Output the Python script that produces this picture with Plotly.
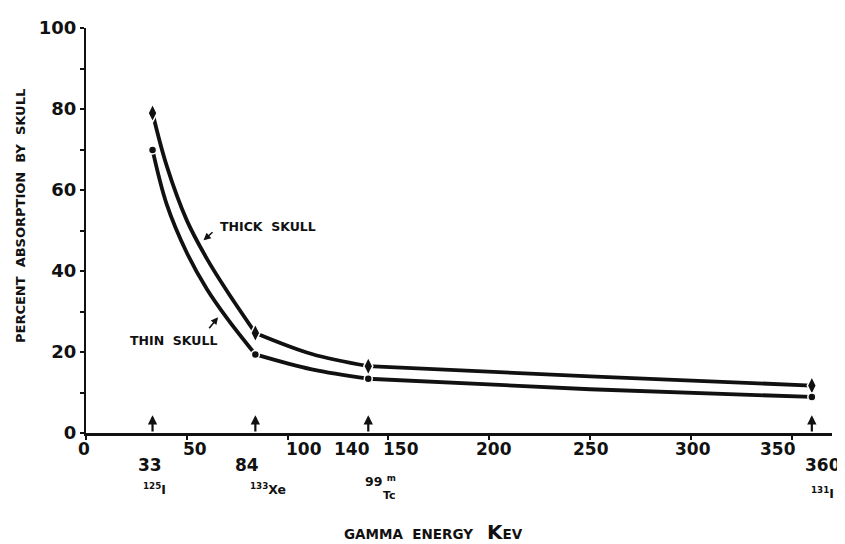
import plotly.graph_objects as go

# ---- data ----
energy_kev = [33, 84, 140, 360]                 # marked isotope energies
thick_skull = [79.0, 24.7, 16.5, 11.7]          # marker values, thick skull
thin_skull = [69.9, 19.4, 13.4, 8.9]            # marker values, thin skull
# points
curve_kev = [33, 40, 50, 60, 70, 84, 112, 140, 250, 360]
thick_curve = [79.0, 66.0, 52.5, 43.0, 35.0, 24.7, 19.5, 16.5, 14.0, 11.7]
thin_curve = [69.9, 56.5, 44.5, 35.5, 28.3, 19.4, 15.7, 13.4, 10.8, 8.9]
energy_labels = ["33", "84", "140", "360"]
isotope_labels = ["<sup>125</sup>I", "<sup>133</sup>Xe", "99 <sup>m</sup>", "<sup>131</sup>I"]
x_ticks = [0, 50, 100, 150, 200, 250, 300, 350]
y_ticks = [0, 20, 40, 60, 80, 100]

FONT = "DejaVu Sans"
BLACK = "#111111"

# page offset of the plotly div (body margin) -> design in page pixels
OFF = 8
W, H = 845 - OFF, 544 - OFF
PL, PR, PT, PB = 86, 832, 28, 433      # plot area in page pixels
L, T = PL - OFF, PT - OFF
R = W - (PR - OFF)
B = H - (PB - OFF)
pw, ph = PR - PL, PB - PT


def px_to_paper(px, py):
    return (px - PL) / pw, (PB - py) / ph


def segments(xs, ys, knots):
    """Split a curve into the pieces between consecutive marker energies."""
    sx, sy = [], []
    for a, b in zip(knots[:-1], knots[1:]):
        for x, y in zip(xs, ys):
            if a <= x <= b:
                sx.append(x)
                sy.append(y)
        sx.append(None)
        sy.append(None)
    return sx, sy


fig = go.Figure()
for cy, my, sym, msize in [(thick_curve, thick_skull, "diamond-tall", 13),
                           (thin_curve, thin_skull, "circle", 8)]:
    sx, sy = segments(curve_kev, cy, energy_kev)
    fig.add_trace(go.Scatter(
        x=sx, y=sy, mode="lines", connectgaps=False,
        line=dict(color=BLACK, width=3.8, shape="spline", smoothing=1.0),
        showlegend=False, cliponaxis=False, hoverinfo="skip"))
    fig.add_trace(go.Scatter(
        x=energy_kev, y=my, mode="markers",
        marker=dict(symbol=sym, size=msize, color=BLACK,
                    line=dict(color="white", width=1.5)),
        showlegend=False, cliponaxis=False))

ann = []
# up arrows marking the isotope energies
for e in energy_kev:
    ann.append(dict(x=e, y=4.4, ax=e, ay=0, xref="x", yref="y", axref="x", ayref="y",
                    text="", showarrow=True, arrowhead=2, arrowsize=0.85,
                    arrowwidth=2.2, arrowcolor=BLACK))

# x tick labels (typed slightly off their ticks in the original)
tick_dx = [-2, 8, 16, 13, 5, 1, 2, -14]
for t, dx in zip(x_ticks, tick_dx):
    ann.append(dict(x=t, y=0, xref="x", yref="y", text=str(t), showarrow=False,
                    xanchor="center", yanchor="middle", xshift=dx, yshift=-16,
                    font=dict(family=FONT, size=17, color=BLACK, weight="bold")))

# energy value labels
e_shift = [(-3, -32, "center"), (-8, -32, "center"), (4, -16, "right"), (11, -32, "center")]
for e, lab, (dx, dy, xa) in zip(energy_kev, energy_labels, e_shift):
    ann.append(dict(x=e, y=0, xref="x", yref="y", text=lab, showarrow=False,
                    xanchor=xa, yanchor="middle", xshift=dx, yshift=dy,
                    font=dict(family=FONT, size=17, color=BLACK, weight="bold")))

# isotope labels
i_shift = [(2, -56), (13, -56), (12, -48), (11, -60)]
for e, lab, (dx, dy) in zip(energy_kev, isotope_labels, i_shift):
    ann.append(dict(x=e, y=0, xref="x", yref="y", text=lab, showarrow=False,
                    xanchor="center", yanchor="middle", xshift=dx, yshift=dy,
                    font=dict(family=FONT, size=12.5, color=BLACK, weight="bold")))
ann.append(dict(x=energy_kev[2], y=0, xref="x", yref="y", text="Tc", showarrow=False,
                xanchor="center", yanchor="middle", xshift=21, yshift=-62,
                font=dict(family=FONT, size=11, color=BLACK, weight="bold")))

# curve labels with pointer arrows
ann.append(dict(x=90.5, y=51.0, xref="x", yref="y", text="THICK&nbsp;&nbsp;SKULL",
                showarrow=False, xanchor="center", yanchor="middle",
                font=dict(family=FONT, size=12.5, color=BLACK, weight="bold")))
ann.append(dict(x=58.3, y=47.6, ax=63.5, ay=49.9, xref="x", yref="y", axref="x", ayref="y",
                text="", showarrow=True, arrowhead=2, arrowsize=0.9, arrowwidth=1.6,
                arrowcolor=BLACK))
ann.append(dict(x=43.5, y=22.8, xref="x", yref="y", text="THIN&nbsp;&nbsp;SKULL",
                showarrow=False, xanchor="center", yanchor="middle",
                font=dict(family=FONT, size=12.5, color=BLACK, weight="bold")))
ann.append(dict(x=65.5, y=28.6, ax=60.5, ay=25.5, xref="x", yref="y", axref="x", ayref="y",
                text="", showarrow=True, arrowhead=2, arrowsize=0.9, arrowwidth=1.6,
                arrowcolor=BLACK))

# axis titles
ytx, yty = px_to_paper(20, 216)
ann.append(dict(x=ytx, y=yty, xref="paper", yref="paper",
                text="PERCENT&nbsp;&nbsp;ABSORPTION&nbsp;&nbsp;BY&nbsp;&nbsp;SKULL",
                showarrow=False, textangle=-90, xanchor="center", yanchor="middle",
                font=dict(family=FONT, size=13, color=BLACK, weight="bold")))
xtx, xty = px_to_paper(433, 532)
ann.append(dict(x=xtx, y=xty, xref="paper", yref="paper",
                text="GAMMA&nbsp;&nbsp;ENERGY&nbsp;&nbsp;&nbsp;<span style='font-size:20px'>K</span>EV",
                showarrow=False, xanchor="center", yanchor="middle",
                font=dict(family=FONT, size=13.5, color=BLACK, weight="bold")))

fig.update_layout(
    width=W, height=H,
    margin=dict(l=L, r=R, t=T, b=B, autoexpand=False),
    paper_bgcolor="white", plot_bgcolor="white",
    annotations=ann,
    font=dict(family=FONT, color=BLACK),
    xaxis=dict(range=[0, 370], tickvals=x_ticks, ticks="outside", ticklen=4,
               tickwidth=2, tickcolor=BLACK, showline=True, linewidth=2.5,
               linecolor=BLACK, showgrid=False, zeroline=False,
               showticklabels=False, automargin=False),
    yaxis=dict(range=[0, 100], tickvals=y_ticks, ticks="outside", ticklen=4,
               tickwidth=2, tickcolor=BLACK, showline=True, linewidth=2,
               linecolor=BLACK, showgrid=False, zeroline=False, automargin=False,
               minor=dict(dtick=10, ticks="outside", ticklen=4, tickwidth=2,
                          tickcolor=BLACK, showgrid=False),
               tickfont=dict(family=FONT, size=18, color=BLACK, weight="bold")),
)

fig.write_html("out.html")
